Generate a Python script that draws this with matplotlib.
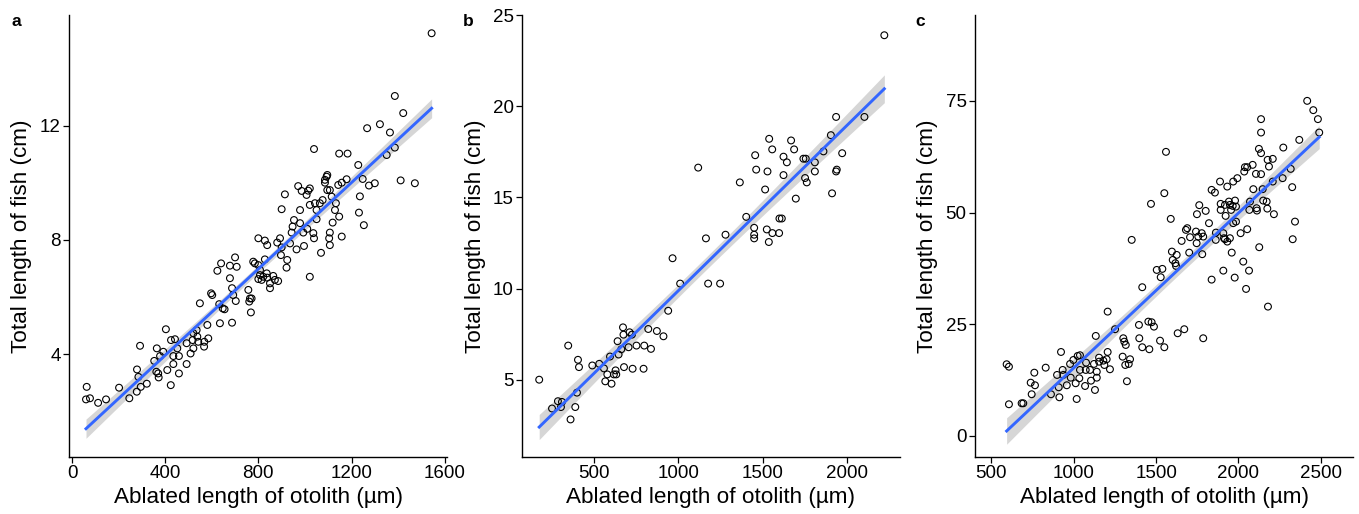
import numpy as np
import matplotlib
matplotlib.use("Agg")
import matplotlib.pyplot as plt

plt.rcParams['font.family'] = ['Liberation Sans', 'DejaVu Sans']

# ---------------- data ----------------
a_x = [63, 60, 77, 112, 146, 202, 246, 278, 292, 279, 285, 295, 321, 353, 364, 362, 370, 372, 378, 392,
       403, 409, 424, 425, 442, 435, 435, 459, 459, 452, 492, 492, 509, 521, 518, 521, 535, 538, 542, 549,
       567, 568, 581, 585, 597, 602, 632, 635, 647, 655, 687, 687, 692, 703,
       678, 624, 640, 678, 700, 707, 757, 764, 771, 761, 768, 778, 785, 800, 807, 807, 800, 814, 821, 836,
       838, 850, 850, 864, 871, 885, 828, 800, 828, 838, 881, 893, 897, 900, 924, 921, 936, 943, 947, 953,
       964, 979, 979, 993, 996, 1010, 1021, 1036, 1039, 1050, 1050, 1069, 1076, 1064, 1107, 1104, 1107,
       1119, 1129, 1147, 1158, 1133, 1115, 1096, 1107, 1086, 1086, 1093, 1096, 1143, 1158, 1179, 914, 900,
       971, 986, 1007, 1014, 1021, 1021, 1043,
       1544, 1386, 1422, 1267, 1322, 1365, 1039, 1147, 1183, 1229, 1351, 1386, 1248, 1275, 1300, 1411,
       1472, 1236, 1232, 1253]
a_y = [2.85, 2.41, 2.45, 2.29, 2.41, 2.82, 2.45, 2.68, 4.29, 3.46, 3.20, 2.85, 2.96, 3.76, 4.20, 3.38, 3.32,
       3.18, 3.93, 4.08, 4.87, 3.44, 2.91, 4.49, 4.52, 3.93, 3.65, 3.93, 3.32, 4.20, 3.65, 4.38, 4.02, 4.20,
       4.49, 4.73, 4.84, 4.61, 4.43, 5.78, 4.26, 4.43, 5.02, 4.55, 6.13, 6.07, 5.75, 5.08, 5.60, 5.57, 5.10,
       6.31, 6.07, 5.86,
       6.66, 6.92, 7.18, 7.10, 7.39, 7.06, 6.25, 5.95, 5.95, 5.84, 5.46, 7.24, 7.18, 7.12, 6.95, 6.77, 6.63,
       6.60, 6.71, 6.83, 6.68, 6.48, 6.31, 6.74, 6.60, 6.56, 7.32, 8.06, 7.98, 7.82, 7.91, 8.06, 7.47, 7.74,
       7.30, 7.03, 7.88, 8.26, 8.47, 8.70, 7.67, 8.59, 9.05, 8.26, 7.79, 8.39, 6.71, 8.24, 8.06, 8.73, 9.05,
       7.55, 9.40, 9.29, 8.26, 8.06, 7.82, 8.61, 9.05, 8.82, 8.12, 9.29, 9.52, 9.75, 9.75, 10.01, 10.11,
       10.22, 10.28, 9.93, 10.01, 10.13, 9.60, 9.08, 9.89, 9.72, 9.58, 9.73, 9.81, 9.23, 9.29,
       15.25, 13.05, 12.45, 11.92, 12.06, 11.77, 11.19, 11.03, 11.03, 10.63, 10.98, 11.24, 10.14, 9.91,
       9.99, 10.09, 9.99, 9.53, 8.96, 8.52]

b_x = [966, 1011, 1177, 940, 672, 822, 873, 912, 640, 675, 711, 725, 662, 705, 752, 798, 838, 595, 646, 531,
       490, 559, 628, 678, 729, 794, 579, 618, 632, 567, 604, 347, 405, 411, 175, 399, 286, 310, 251, 304,
       389, 361,
       2222, 2104, 1936, 1905, 1861, 1972, 1539, 1669, 1557, 1687, 1456, 1624, 1644, 1742, 1756, 1810,
       1118, 1462, 1529, 1624, 1810, 1940, 1936, 1752, 1762, 1365, 1515, 1912, 1697, 1403, 1600, 1614,
       1450, 1450, 1450, 1525, 1558, 1598, 1537, 1280, 1164, 1248]
b_y = [11.66, 10.27, 10.27, 8.78, 7.87, 7.78, 7.67, 7.38, 7.11, 7.47, 7.60, 7.47, 6.67, 6.78, 6.87, 6.87,
       6.69, 6.27, 6.38, 5.87, 5.78, 5.62, 5.51, 5.69, 5.60, 5.60, 5.29, 5.29, 5.29, 4.91, 4.78, 6.87, 6.09,
       5.69, 5.00, 4.29, 3.82, 3.78, 3.42, 3.50, 3.50, 2.82,
       23.89, 19.41, 19.41, 18.41, 17.52, 17.42, 18.21, 18.12, 17.63, 17.63, 17.31, 17.23, 16.92, 17.12,
       17.12, 16.92, 16.63, 16.52, 16.42, 16.22, 16.42, 16.52, 16.42, 16.06, 15.82, 15.82, 15.43, 15.22,
       14.93, 13.93, 13.84, 13.84, 13.33, 12.95, 12.75, 13.24, 13.04, 13.04, 12.55, 12.95, 12.75, 10.27]

c_x = [1206, 593, 607, 607, 684, 694, 745, 739, 765, 761, 830, 862, 913, 923, 899, 933, 937, 909, 958, 982,
       978, 998, 1024, 1038, 1038, 1034, 1012, 1018, 1069, 1075, 1073, 1099, 1105, 1129, 1140, 1140, 1123,
       1154, 1154, 1180, 1186, 1200, 1206, 1220, 1134, 1251, 1297, 1313, 1334, 1342, 1323, 1301, 1307,
       1316, 1398, 1416, 1459, 1396, 1453, 1473, 1487, 1524, 1550, 1631,
       1550, 1469, 1589, 1352, 1416, 1504, 1538, 1528, 1596, 1625, 1601, 1617, 1621, 1655, 1681, 1689,
       1706, 1701, 1742, 1756, 1746, 1777, 1786, 1780, 1748, 1762, 1801, 1821, 1837, 1857, 1888, 1932,
       1968, 1892, 1892, 1918, 1922, 1942, 1948, 1965, 1979, 1985, 1955, 1968, 1985, 1863, 1862, 1908,
       1918, 1932, 1912, 1948, 1959, 2013, 2053, 2029, 2064, 1908, 1837, 1977, 2046, 2126, 2179, 2066,
       2070, 2090, 2110, 2112, 2147, 2150, 2171, 2175, 2215, 1671, 1786,
       2417, 2454, 2482, 2490, 2369, 2272, 2137, 2137, 2124, 2137, 2177, 2208, 2185, 2086, 2039, 2053,
       2035, 2106, 2137, 1993, 2317, 2268, 2208, 2326, 2343, 2329, 1560]
c_y = [27.83, 16.05, 15.51, 7.10, 7.32, 7.32, 9.34, 11.93, 11.35, 14.17, 15.29, 9.34, 8.66, 18.80, 13.66,
       14.78, 13.66, 10.90, 11.35, 13.05, 16.12, 17.01, 17.91, 18.07, 14.78, 12.92, 11.80, 8.28, 11.19,
       16.41, 14.78, 14.78, 12.38, 10.30, 14.39, 13.05, 16.12, 17.53, 16.63, 16.86, 15.89, 17.17, 18.80,
       14.93, 22.39, 23.89, 17.75, 15.89, 16.12, 17.17, 12.25, 21.87, 21.11, 20.37, 21.87, 19.86, 19.41,
       24.85, 25.59, 25.45, 24.47, 21.33, 19.86, 22.99,
       54.33, 51.94, 48.58, 43.88, 33.29, 37.16, 37.39, 35.53, 41.26, 40.52, 39.40, 38.66, 38.06, 43.65,
       46.12, 46.50, 44.48, 41.03, 45.74, 44.62, 43.14, 45.38, 44.62, 40.68, 49.63, 51.65, 50.37, 47.62,
       55.07, 54.47, 56.93, 55.81, 56.93, 51.94, 50.59, 51.71, 49.25, 52.45, 51.71, 51.49, 52.68, 51.33,
       50.59, 47.62, 47.97, 45.51, 43.88, 45.38, 44.03, 43.50, 44.26, 44.26, 41.03, 45.38, 46.27, 39.02,
       37.00, 37.00, 34.99, 35.44, 32.91, 42.24, 28.95, 50.59, 52.45, 55.23, 50.97, 50.44, 55.23, 52.68,
       52.45, 50.88, 49.63, 23.89, 21.87,
       74.99, 72.91, 70.90, 67.90, 66.26, 64.54, 70.90, 67.90, 64.25, 63.29, 61.79, 62.01, 60.29, 60.67,
       60.15, 60.15, 59.17, 58.65, 58.59, 57.69, 59.77, 57.69, 56.93, 55.68, 47.97, 44.03, 63.58]

panel_labels = ['a', 'b', 'c']
x_title = 'Ablated length of otolith (µm)'
y_title = 'Total length of fish (cm)'
x_ticks = [[0, 400, 800, 1200, 1600], [500, 1000, 1500, 2000], [500, 1000, 1500, 2000, 2500]]
y_ticks = [[4, 8, 12], [5, 10, 15, 20, 25], [0, 25, 50, 75]]
x_lims = [(-13, 1610), (73, 2315), (401, 2695)]
y_lims = [(0.39, 15.89), (0.76, 24.9), (-4.7, 94.2)]

datasets = [(a_x, a_y), (b_x, b_y), (c_x, c_y)]

W, H = 1359, 514
fig = plt.figure(figsize=(W / 100, H / 100), dpi=100)
lefts = [69, 522, 975]
ax_w, ax_b, ax_h = 378, 57, 442


def t_quant(df):
    z = 1.959964
    return z + (z ** 3 + z) / (4 * df) + (5 * z ** 5 + 16 * z ** 3 + 3 * z) / (96 * df ** 2)


for i, (xs, ys) in enumerate(datasets):
    ax = fig.add_axes([lefts[i] / W, ax_b / H, ax_w / W, ax_h / H])
    x = np.asarray(xs, float)
    y = np.asarray(ys, float)
    n = len(x)
    b1, b0 = np.polyfit(x, y, 1)
    resid = y - (b0 + b1 * x)
    s = np.sqrt(np.sum(resid ** 2) / (n - 2))
    xg = np.linspace(x.min(), x.max(), 200)
    yg = b0 + b1 * xg
    se = s * np.sqrt(1 / n + (xg - x.mean()) ** 2 / np.sum((x - x.mean()) ** 2))
    t = t_quant(n - 2)
    ax.fill_between(xg, yg - t * se, yg + t * se, color='#999999', alpha=0.4, lw=0, zorder=1)
    ax.scatter(x, y, s=24, facecolors='none', edgecolors='black', linewidths=0.8, zorder=2)
    ax.plot(xg, yg, color='#3366FF', lw=2.1, zorder=3)

    ax.set_xlim(*x_lims[i])
    ax.set_ylim(*y_lims[i])
    ax.set_xticks(x_ticks[i])
    ax.set_yticks(y_ticks[i])
    for sp in ['top', 'right']:
        ax.spines[sp].set_visible(False)
    for sp in ['left', 'bottom']:
        ax.spines[sp].set_linewidth(1.0)
    ax.tick_params(direction='out', length=4, width=0.9, labelsize=13.5, colors='black', pad=2)
    ax.set_xlabel(x_title, fontsize=16.2)
    ax.set_ylabel(y_title, fontsize=16.2)
    ax.xaxis.label.set_va('center')
    ax.yaxis.label.set_va('center')
    ax.xaxis.set_label_coords(0.5, -(497 - (H - ax_b)) / ax_h)
    ax.yaxis.set_label_coords(-(lefts[i] - (22 + 453 * i)) / ax_w, 0.5)
    fig.text((16 + 452 * i) / W, 1 - 22 / H, panel_labels[i], fontsize=12.5, fontweight='bold',
             ha='center', va='center')

fig.savefig('out.png', dpi=100)
